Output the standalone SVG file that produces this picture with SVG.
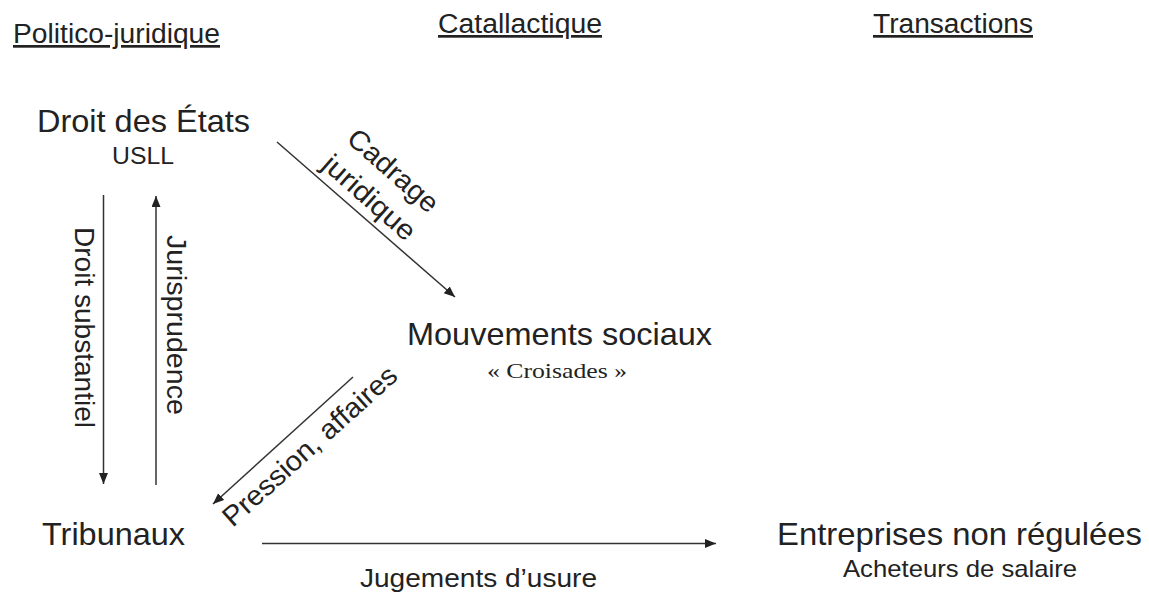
<svg xmlns="http://www.w3.org/2000/svg" width="1149" height="595" viewBox="0 0 1149 595">
  <style>
    text { font-family: "Liberation Sans", Arial, sans-serif; fill: #222; }
    .hdr { font-size: 27px; text-decoration: underline; }
    .node { font-size: 32px; }
    .sub { font-size: 24px; }
    .serif { font-family: "Liberation Serif", "Times New Roman", serif; font-size: 22px; }
    .lbl { font-size: 28px; }
    .conn { stroke: #333; stroke-width: 1.5; fill: none; marker-end: url(#arrow); }
  </style>
  <defs>
    <marker id="arrow" markerUnits="userSpaceOnUse" markerWidth="12" markerHeight="10" refX="11" refY="4.5" orient="auto">
      <path d="M0,0 L11,4.5 L0,9 Z" fill="#222"/>
    </marker>
  </defs>
  <rect width="1149" height="595" fill="#fff"/>

  <g id="headers">
    <text class="hdr" x="116.5" y="43" text-anchor="middle" textLength="207" lengthAdjust="spacingAndGlyphs">Politico-juridique</text>
    <text class="hdr" x="520" y="33" text-anchor="middle" textLength="164" lengthAdjust="spacingAndGlyphs">Catallactique</text>
    <text class="hdr" x="953" y="33" text-anchor="middle" textLength="160" lengthAdjust="spacingAndGlyphs">Transactions</text>
  </g>

  <g id="node-droit-etats">
    <text class="node" x="143.5" y="132" text-anchor="middle" textLength="213" lengthAdjust="spacingAndGlyphs">Droit des États</text>
    <text class="sub" x="143" y="164" text-anchor="middle" textLength="62" lengthAdjust="spacingAndGlyphs">USLL</text>
  </g>

  <g id="node-mouvements">
    <text class="node" x="559.5" y="345" text-anchor="middle" textLength="305" lengthAdjust="spacingAndGlyphs">Mouvements sociaux</text>
    <text class="serif" x="557" y="378" text-anchor="middle" textLength="140" lengthAdjust="spacingAndGlyphs">« Croisades »</text>
  </g>

  <g id="node-tribunaux">
    <text class="node" x="113.5" y="545" text-anchor="middle" textLength="143" lengthAdjust="spacingAndGlyphs">Tribunaux</text>
  </g>

  <g id="node-entreprises">
    <text class="node" x="959.5" y="545" text-anchor="middle" textLength="365" lengthAdjust="spacingAndGlyphs">Entreprises non régulées</text>
    <text class="sub" x="960" y="577" text-anchor="middle" textLength="234" lengthAdjust="spacingAndGlyphs">Acheteurs de salaire</text>
  </g>

  <g id="connectors">
    <line class="conn" x1="277" y1="142" x2="455" y2="297"/>
    <line class="conn" x1="103.5" y1="195" x2="103.5" y2="484"/>
    <line class="conn" x1="156" y1="485" x2="156" y2="196"/>
    <line class="conn" x1="353" y1="377" x2="213" y2="504"/>
    <line class="conn" x1="262" y1="543.5" x2="716" y2="543.5"/>

    <g transform="translate(356.5,212.1) rotate(41.4)">
      <text class="lbl" x="0" y="-46" text-anchor="middle" textLength="111" lengthAdjust="spacingAndGlyphs">Cadrage</text>
      <text class="lbl" x="0" y="-10" text-anchor="middle" textLength="114" lengthAdjust="spacingAndGlyphs">juridique</text>
    </g>
    <text class="lbl" transform="translate(75,327.5) rotate(90)" x="0" y="0" text-anchor="middle" textLength="201" lengthAdjust="spacingAndGlyphs">Droit substantiel</text>
    <text class="lbl" transform="translate(167,325) rotate(90)" x="0" y="0" text-anchor="middle" textLength="180" lengthAdjust="spacingAndGlyphs">Jurisprudence</text>
    <text class="lbl" transform="translate(316,453) rotate(-42)" x="0" y="0" text-anchor="middle" textLength="224" lengthAdjust="spacingAndGlyphs">Pression, affaires</text>
    <text class="sub" x="478.5" y="587" text-anchor="middle" style="font-size:26px" textLength="237" lengthAdjust="spacingAndGlyphs">Jugements d’usure</text>
  </g>
</svg>
